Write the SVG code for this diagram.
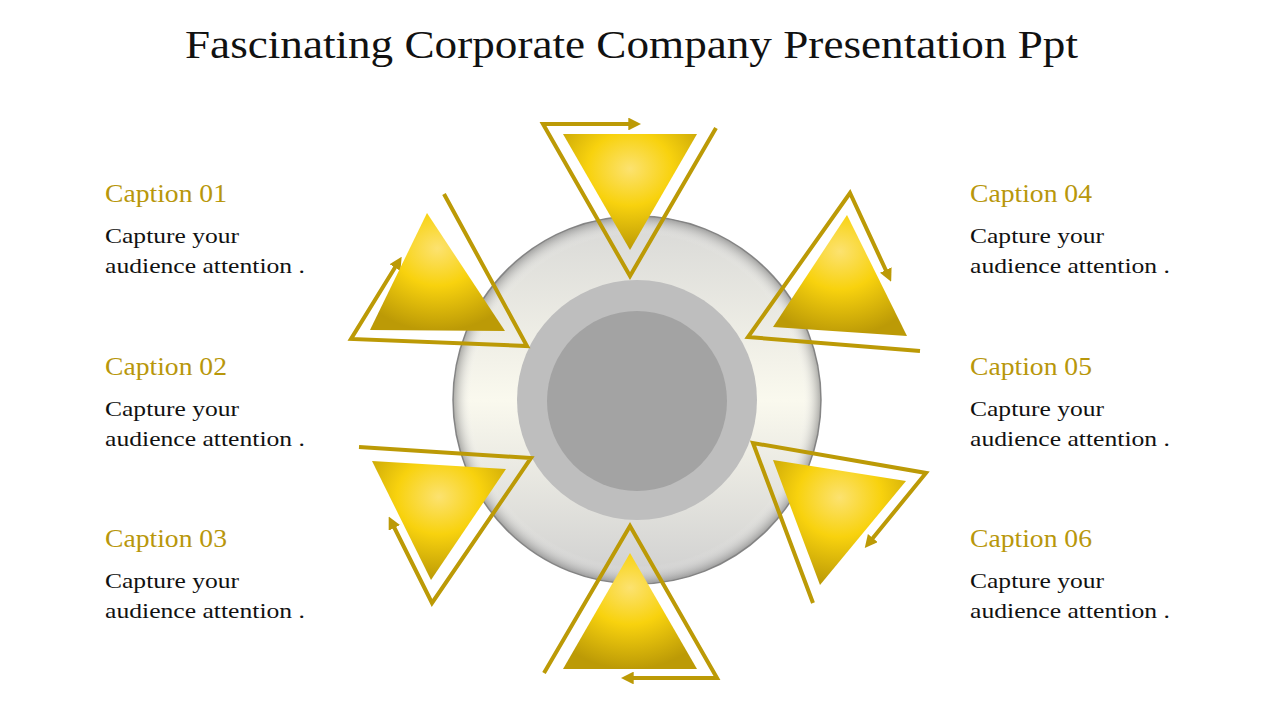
<svg xmlns="http://www.w3.org/2000/svg" width="1280" height="720" viewBox="0 0 1280 720">
<style>
.t{font-family:"Liberation Serif",serif;fill:#111}
.cap{font-family:"Liberation Serif",serif;fill:#B8970B;font-size:25px}
.body{font-family:"Liberation Serif",serif;fill:#111;font-size:22px}
.ol{fill:none;stroke:#BC9A06;stroke-width:4;marker-end:url(#ah)}
</style>
<defs>
<marker id="ah" viewBox="0 0 10 10" refX="6" refY="5" markerWidth="3.2" markerHeight="3.2" orient="auto"><path d="M0,0L10,5L0,10z" fill="#BC9A06"/></marker>
<radialGradient id="g" cx="0.5" cy="0.3" r="0.7"><stop offset="0" stop-color="#FCE270"/><stop offset="0.45" stop-color="#F8D20E"/><stop offset="1" stop-color="#BC9A06"/></radialGradient>
<linearGradient id="disc" x1="0" y1="0" x2="0" y2="1"><stop offset="0" stop-color="#D8D8D6"/><stop offset="0.5" stop-color="#FAF9EE"/><stop offset="1" stop-color="#CFCFCF"/></linearGradient>
<radialGradient id="rim" cx="0.5" cy="0.5" r="0.5"><stop offset="0.9" stop-color="#fff" stop-opacity="0"/><stop offset="1" stop-color="#777" stop-opacity="0.6"/></radialGradient>
</defs>
<text class="t" x="185" y="58" font-size="40" textLength="893" lengthAdjust="spacingAndGlyphs">Fascinating Corporate Company Presentation Ppt</text>
<g id="hub">
<circle cx="637" cy="400" r="184" fill="url(#disc)" stroke="#8a8a8a" stroke-width="1.5"/>
<circle cx="637" cy="400" r="184" fill="url(#rim)"/>
<circle cx="637" cy="400" r="120" fill="#BEBEBE"/>
<circle cx="637" cy="401" r="90" fill="#A3A3A3"/>
</g>
<g id="connectors">
<polyline class="ol" points="716,128 630,276 543,124 636,124"/>
<polyline class="ol" points="544,673 630,526 717,678 626,678"/>
<polyline class="ol" points="444,194 527,346 351,339 399,261"/>
<polyline class="ol" points="920,351 748,337 850,193 889,277"/>
<polyline class="ol" points="359,447 531,458 432,603 391,521"/>
<polyline class="ol" points="813,603 753,443 926,473 868,544"/>
</g>
<g id="tri-top"><polygon points="563,134 697,134 630,250" fill="url(#g)"/></g>
<g id="tri-bottom"><polygon points="563,669 697,669 630,553" fill="url(#g)"/></g>
<g id="tri-tl"><polygon points="427,213 370,330 505,331" fill="url(#g)"/></g>
<g id="tri-tr"><polygon points="847,215 773,327 907,336" fill="url(#g)"/></g>
<g id="tri-bl"><polygon points="372,461 506,469 431,580" fill="url(#g)"/></g>
<g id="tri-br"><polygon points="773,460 906,481 820,585" fill="url(#g)"/></g>
<g id="cap1"><text class="cap" x="105" y="202" textLength="122" lengthAdjust="spacingAndGlyphs">Caption 01</text><text class="body" x="105" y="243" textLength="134" lengthAdjust="spacingAndGlyphs">Capture your</text><text class="body" x="105" y="273" textLength="200" lengthAdjust="spacingAndGlyphs">audience attention .</text></g>
<g id="cap2"><text class="cap" x="105" y="375" textLength="122" lengthAdjust="spacingAndGlyphs">Caption 02</text><text class="body" x="105" y="416" textLength="134" lengthAdjust="spacingAndGlyphs">Capture your</text><text class="body" x="105" y="446" textLength="200" lengthAdjust="spacingAndGlyphs">audience attention .</text></g>
<g id="cap3"><text class="cap" x="105" y="547" textLength="122" lengthAdjust="spacingAndGlyphs">Caption 03</text><text class="body" x="105" y="588" textLength="134" lengthAdjust="spacingAndGlyphs">Capture your</text><text class="body" x="105" y="618" textLength="200" lengthAdjust="spacingAndGlyphs">audience attention .</text></g>
<g id="cap4"><text class="cap" x="970" y="202" textLength="122" lengthAdjust="spacingAndGlyphs">Caption 04</text><text class="body" x="970" y="243" textLength="134" lengthAdjust="spacingAndGlyphs">Capture your</text><text class="body" x="970" y="273" textLength="200" lengthAdjust="spacingAndGlyphs">audience attention .</text></g>
<g id="cap5"><text class="cap" x="970" y="375" textLength="122" lengthAdjust="spacingAndGlyphs">Caption 05</text><text class="body" x="970" y="416" textLength="134" lengthAdjust="spacingAndGlyphs">Capture your</text><text class="body" x="970" y="446" textLength="200" lengthAdjust="spacingAndGlyphs">audience attention .</text></g>
<g id="cap6"><text class="cap" x="970" y="547" textLength="122" lengthAdjust="spacingAndGlyphs">Caption 06</text><text class="body" x="970" y="588" textLength="134" lengthAdjust="spacingAndGlyphs">Capture your</text><text class="body" x="970" y="618" textLength="200" lengthAdjust="spacingAndGlyphs">audience attention .</text></g>
</svg>
